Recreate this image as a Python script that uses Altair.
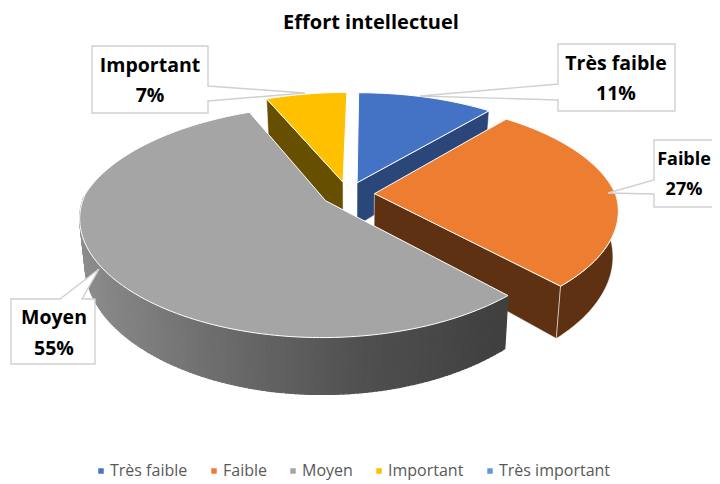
import math
import altair as alt

categories = ["Très faible", "Faible", "Moyen", "Important", "Très important"]
shares = [11.0, 27.05, 55.4, 6.55, 0.0]
top_colors = ["#4472C4", "#ED7D31", "#A5A5A5", "#FFC000", "#5B9BD5"]
wall_colors = ["#2B4779", "#5F3113", "#6A6A6A", "#665000", "#2F5F8A"]

FONT = "Open Sans"
OFF = 8
CX, CY, A, B, E, H = 348.0, 194.0, 241.0, 111.0, 0.11, 44.0
SX, SY, SKEW = 0.98, 1.09, 3.0


def project(theta, mid, r=1.0, bottom=False):
    t, m = math.radians(theta), math.radians(mid)
    u = r * math.sin(t) + E * math.sin(m)
    v = -r * math.cos(t) - E * math.cos(m)
    wx = 1 - (0.14 if v > 0 else 0.20) * v
    wy = 1 - (0.17 if v > 0 else 0.19) * v
    shift = -SKEW * min(v, 0.0)
    if bottom:
        return [CX + shift + SX * A * u / wx - OFF, CY + H + SY * B * v / wy - OFF]
    return [CX + shift + A * u / wx - OFF, CY + B * v / wy - OFF]


def feature(points, fill, stroke, width, category=None):
    ring = [list(p) for p in points] + [list(points[0])]
    return {
        "type": "Feature",
        "geometry": {"type": "Polygon", "coordinates": [ring]},
        "properties": {"fill": fill, "stroke": stroke, "sw": width, "category": category},
    }


def steps(a, b, d=1.5):
    n = max(2, int(abs(b - a) / d) + 1)
    return [a + (b - a) * i / n for i in range(n + 1)]


spans = {}
start = 0.0
for c, s in zip(categories, shares):
    spans[c] = (start, start + s * 3.6, start + s * 1.8)
    start += s * 3.6

tops = []
for c, col in zip(categories, top_colors):
    a0, a1, mid = spans[c]
    if a1 - a0 <= 0:
        continue
    pts = [project(0, mid, r=0.0)] + [project(t, mid) for t in steps(a0, a1)]
    tops.append(feature(pts, col, "#FFFFFF", 1.0, c))


def radial_wall(i, angle):
    c = categories[i]
    mid = spans[c][2]
    return feature(
        [project(0, mid, r=0.0), project(angle, mid), project(angle, mid, bottom=True),
         project(0, mid, r=0.0, bottom=True)],
        wall_colors[i], "#FFFFFF", 0.5,
    )


walls = [radial_wall(3, spans["Important"][0]), radial_wall(0, spans["Très faible"][1])]

orange_mid = spans["Faible"][2]
orange_end = spans["Faible"][1]
walls.append(radial_wall(1, orange_end))
ts = steps(78, orange_end)
walls.append(feature(
    [project(t, orange_mid) for t in ts] + [project(t, orange_mid, bottom=True) for t in reversed(ts)],
    wall_colors[1], "#FFFFFF", 0.5,
))


def shade(x):
    stops = [(82, 0x8C), (200, 0x70), (360, 0x50), (500, 0x40), (720, 0x40)]
    for (x0, g0), (x1, g1) in zip(stops, stops[1:]):
        if x <= x1:
            f = max(0.0, (x - x0) / (x1 - x0))
            g = int(round(g0 + (g1 - g0) * f))
            return f"#{g:02X}{g:02X}{g:02X}"
    return "#404040"


grey_mid = spans["Moyen"][2]
grey_start = spans["Moyen"][0]
ts = steps(grey_start, 272, 1.0)
for t0, t1 in zip(ts, ts[1:]):
    quad = [project(t0, grey_mid), project(t1, grey_mid),
            project(t1, grey_mid, bottom=True), project(t0, grey_mid, bottom=True)]
    col = shade((quad[0][0] + quad[1][0]) / 2 + OFF)
    walls.append(feature(quad, col, col, 1.2))


def shifted(points):
    return [[x - OFF, y - OFF] for x, y in points]


callouts = [
    shifted([(92, 46), (208, 46), (208, 86), (305, 93), (208, 101), (208, 113), (92, 113)]),
    shifted([(558, 44), (675, 44), (675, 111), (558, 111), (558, 100), (420, 96), (558, 84)]),
    shifted([(654, 140), (740, 140), (740, 207), (654, 207), (654, 194), (608, 193), (654, 180)]),
    shifted([(11, 299), (60, 299), (99, 269), (82, 299), (95, 299), (95, 364), (11, 364)]),
]
boxes = [feature(p, "#FFFFFF", "#D0D0D0", 1.4) for p in callouts]

label_spots = {
    "Important": (150, 66, 96, 19.5),
    "Très faible": (616, 64, 94, 19.5),
    "Faible": (684, 160, 190, 18),
    "Moyen": (54, 318, 349, 19.5),
}

proj = dict(type="identity", scale=1, translate=[0, 0])

wall_layer = (
    alt.Chart(alt.Data(values=walls))
    .mark_geoshape()
    .encode(
        fill=alt.Fill("properties.fill:N", scale=None, legend=None),
        stroke=alt.Stroke("properties.stroke:N", scale=None, legend=None),
        strokeWidth=alt.StrokeWidth("properties.sw:Q", scale=None, legend=None),
    )
    .project(**proj)
)

top_layer = (
    alt.Chart(alt.Data(values=tops))
    .mark_geoshape(stroke="#FFFFFF", strokeWidth=1)
    .encode(
        color=alt.Color(
            "properties.category:N",
            scale=alt.Scale(domain=categories, range=top_colors),
            sort=categories,
            legend=alt.Legend(
                title=None,
                orient="none",
                legendX=85,
                legendY=455,
                direction="horizontal",
                columns=5,
                symbolType="square",
                symbolSize=30,
                symbolStrokeWidth=0,
                symbolOpacity=1,
                labelFont=FONT,
                labelFontSize=16,
                labelColor="#595959",
                labelOffset=1,
                columnPadding=18,
                gridAlign="each",
            ),
        )
    )
    .project(**proj)
)

box_layer = (
    alt.Chart(alt.Data(values=boxes))
    .mark_geoshape(fill="#FFFFFF", stroke="#D0D0D0", strokeWidth=1.4)
    .encode(opacity=alt.value(1))
    .project(**proj)
)

layers = [wall_layer, top_layer, box_layer]
for c, s in zip(categories, shares):
    if c not in label_spots:
        continue
    x, y1, y2, fs = label_spots[c]
    for txt, y in ((c, y1), (f"{round(s)}%", y2)):
        layers.append(
            alt.Chart(alt.Data(values=[{"t": txt}]))
            .mark_text(font=FONT, fontSize=fs, fontWeight="bold", color="#000000", baseline="middle", align="center")
            .encode(x=alt.value(x - OFF), y=alt.value(y - OFF), text="t:N")
        )

chart = (
    alt.layer(*layers)
    .properties(
        width=704,
        height=476,
        padding=0,
        autosize=alt.AutoSizeParams(type="none"),
        title=alt.TitleParams(
            "Effort intellectuel",
            font=FONT,
            fontSize=20,
            fontWeight="bold",
            color="#000000",
            anchor="middle",
            dx=11,
            offset=-25,
        ),
    )
    .configure_view(stroke=None)
)

chart.save("out.html", embed_options={"renderer": "svg", "actions": False})
